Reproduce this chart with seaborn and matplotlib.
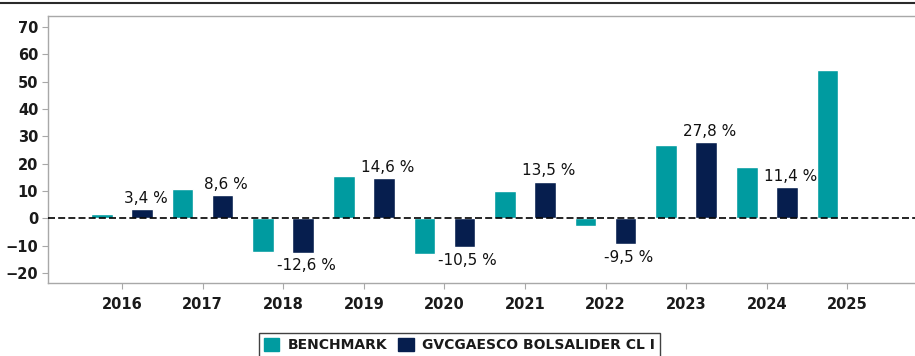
import numpy as np
import pandas as pd
import matplotlib
matplotlib.use("Agg")
import matplotlib.pyplot as plt
from matplotlib.lines import Line2D
import seaborn as sns

# Annual returns (%) per year
years = ["2016", "2017", "2018", "2019", "2020", "2021", "2022", "2023", "2024", "2025"]
benchmark = [1.6, 10.7, -12.2, 15.6, -13.1, 10.2, -2.7, 26.8, 18.9, 54.1]
fund = [3.4, 8.6, -12.6, 14.6, -10.5, 13.5, -9.5, 27.8, 11.4, np.nan]
series_names = ["BENCHMARK", "GVCGAESCO BOLSALIDER CL I"]
colors = ["#009BA0", "#061E4E"]
yticks = [-20, -10, 0, 10, 20, 30, 40, 50, 60, 70]

df = pd.DataFrame({
    "year": years * 2,
    "value": benchmark + fund,
    "series": [series_names[0]] * len(years) + [series_names[1]] * len(years),
})

sns.set_theme(style="white")
plt.rcParams["font.family"] = ["DejaVu Sans"]

fig = plt.figure(figsize=(9.15, 3.56), dpi=100)
fig.patch.set_linewidth(0)
# plot area runs past the right edge of the figure
right_px = 970
ax = fig.add_axes([48 / 915, 1 - 283 / 356, (right_px - 48) / 915, (283 - 16) / 356])

sns.barplot(data=df, x="year", y="value", hue="series", order=years,
            hue_order=series_names, palette=colors, width=0.99, gap=0.46,
            dodge=True, saturation=1, legend=False, ax=ax, errorbar=None)

px_per_cat = 80.6
ax.set_xlim(-(122 - 48) / px_per_cat, (right_px - 122) / px_per_cat)
ax.set_ylim(-23.6, 74)
ax.set_yticks(yticks)
ax.set_xlabel("")
ax.set_ylabel("")

# Zero reference line
ax.axhline(0, color="black", linestyle=(0, (4.2, 1.9)), linewidth=1.2, zorder=3)

# Spines and ticks
for side in ["left", "bottom", "top"]:
    ax.spines[side].set_color("#a8a8a8")
    ax.spines[side].set_linewidth(1.0)
ax.spines["right"].set_visible(False)
ax.tick_params(axis="both", which="both", length=4, width=0.8, color="#a8a8a8",
               labelsize=10.5, labelcolor="#1a1a1a", pad=3)
ax.tick_params(axis="x", pad=6)
ax.tick_params(left=True, bottom=True, right=False, top=False)
for lbl in ax.get_xticklabels() + ax.get_yticklabels():
    lbl.set_fontweight("bold")

# Value labels on the fund bars
fund_bars = ax.containers[1]
for bar, v in zip(fund_bars, fund):
    if np.isnan(v):
        continue
    xc = bar.get_x() + bar.get_width() / 2
    text = f"{v:.1f} %".replace(".", ",")
    if v >= 0:
        ax.annotate(text, (xc, v), xytext=(2.5, 4.5), textcoords="offset points",
                    ha="center", va="baseline", fontsize=11, color="#111111")
    else:
        ax.annotate(text, (xc, v), xytext=(2.5, -4.0), textcoords="offset points",
                    ha="center", va="top", fontsize=11, color="#111111")

# Frame line along the top of the figure
fig.add_artist(Line2D([0, 1], [1 - 2.5 / 356, 1 - 2.5 / 356], transform=fig.transFigure,
                      color="#2a2a2a", linewidth=1.5))

# Legend
handles = [plt.Rectangle((0, 0), 1, 1, color=c) for c in colors]
leg = fig.legend(handles, series_names, loc="upper center",
                 bbox_to_anchor=(0.502, 1 - 326 / 356), ncol=2, frameon=True,
                 fancybox=False, edgecolor="#111111", handlelength=1.1,
                 handleheight=1.1, handletextpad=0.6, columnspacing=0.8,
                 borderpad=0.35, prop={"weight": "bold", "size": 10})
leg.get_frame().set_linewidth(1.0)
for t in leg.get_texts():
    t.set_color("#1a1a1a")

fig.savefig("out.png", dpi=100)
